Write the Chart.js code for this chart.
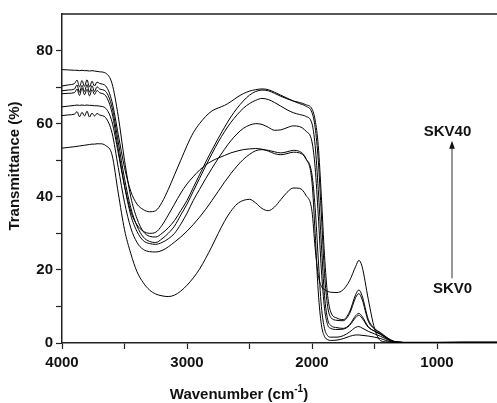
<!DOCTYPE html>
<html lang="en">
<head>
  <meta charset="UTF-8">
  <title>FTIR Transmittance</title>
  <script src="https://cdn.jsdelivr.net/npm/chart.js"></script>
  <style>
    body { margin: 0; background: #fff; }
    #wrap { width: 497px; height: 403px; }
  </style>
</head>
<body>
  <div id="wrap"><canvas id="ftir" width="497" height="403"></canvas></div>

  <script>
    // shared wavenumber grid (cm-1), finer around the water-vapour noise
    const wavenumber = [4000,3950,3900,3880,3860,3840,3820,3800,3780,3760,3740,3720,3700,
      3650,3600,3550,3500,3450,3400,3350,3300,3250,3200,
      3150,3100,3050,3000,2950,2900,2850,2800,2750,2700,
      2650,2600,2550,2500,2450,2400,2350,2300,2250,2200,
      2150,2100,2050,2000,1975,1950,1925,1900,1875,1850,
      1800,1750,1700,1650,1625,1600,1550,1500,1450,1400,
      1350,1300,1250,1200,1000,800,500];

    // transmittance (%), one array per spectrum
    const spec1 = [53.3,53.5,53.7,53.8,53.9,54.0,54.1,54.2,54.3,54.4,54.4,54.5,54.5,
      54.0,51.5,41,31,24.5,19.5,16.5,14.5,13.4,12.9,
      12.7,13.1,14.2,15.8,17.8,20.2,23.2,26.5,30,33.3,
      36,38,39,39.3,38.3,36.8,36.2,37.2,39.2,41.2,
      42.4,42.3,40.5,36,26,18.5,15.5,14.6,14.1,13.9,
      13.8,14.6,17,21,22.6,21,12,4,0.6,0.3,
      0.2,0.2,0.2,0.2,0.2,0.3,0.3];
    const spec2 = [62.2,62.4,62.6,63.3,61.9,63.1,62.1,63.4,61.8,62.9,62.1,62.8,62.4,
      61.6,57.5,48,38.5,31.5,27.5,25.6,25,24.9,25.3,
      26.3,27.6,29,30.6,32.4,34.4,36.6,39,41.5,44,
      46.3,48.4,50.2,51.6,52.6,52.9,52.7,52.3,52,52.3,
      52.7,52.4,50.5,44,30,14,5,1.8,0.9,0.7,
      0.8,1.2,1.8,2.2,2.2,2.1,1.9,1.6,1.2,0.6,
      0.3,0.15,0.1,0.1,0.1,0.1,0.1];
    const spec3 = [64.6,64.8,65,65.1,65,65.1,65,65.1,65,65,64.9,64.9,64.8,
      64.2,60.5,52,43,36,32.3,30.6,30,30.3,32.2,
      35,38,41,43.5,45.5,47.3,48.7,49.8,50.6,51.3,
      52,52.5,52.9,53.1,53.2,53,52.5,51.8,51.5,51.8,
      52.2,52,50.5,46,37,23,10,4,2,1.6,
      1.6,2,3,4.3,4.5,4.1,3.2,2.5,1.8,1,
      0.4,0.2,0.1,0.1,0.1,0.1,0.1];
    const spec4 = [68.2,68.3,68.5,69.5,67.7,69.7,67.9,69.4,67.6,69.3,68,69.1,68.5,
      67.6,63,53,43,35,30.5,28,27.2,27,27.5,
      28.5,30,32.5,35.5,39,42,45,47.8,50.5,53,
      55.3,57.2,58.7,59.6,60,59.8,59,58.2,58.3,58.9,
      59.4,59.2,58,55,48,35,20,9.5,5,4,
      3.7,3.8,4.8,7,7.6,6.8,4.3,3.3,2.4,1.3,
      0.5,0.2,0.1,0.1,0.1,0.1,0.1];
    const spec5 = [69,69.2,69.5,70.6,68.6,70.5,68.8,70.7,68.6,70.4,68.8,70.1,69.5,
      68.8,64.5,55,45,37,32,29,27.8,27.5,28.5,
      30,32,35,38,41.5,45,48.5,51.8,55,57.8,
      60.3,62.4,64.2,65.5,66.4,66.9,66.6,65.8,64.8,63.8,
      63,62.5,62,60,54,42,27,13,6.5,4.8,
      4.2,4,5,7.5,8.1,7.3,4.5,3.2,2.3,1.2,
      0.4,0.2,0.1,0.1,0.1,0.1,0.1];
    const spec6 = [70.3,70.6,71,71.9,70.1,71.8,70.2,72,70,71.6,70.3,71.4,71,
      70.3,66,57,48,41.5,38,36.5,35.9,36.2,38.5,
      42,46,50,54,57.5,60,62,63.5,64.3,65,
      66,67.2,68.2,68.9,69.3,69.5,69.3,68.6,67.8,67,
      66.2,65.5,64.8,63,59,50,35,19,10,7,
      6.2,6.1,8,12.5,13.5,12,6,3.8,2.6,1.4,
      0.5,0.2,0.1,0.1,0.1,0.1,0.1];
    const spec7 = [74.8,74.7,74.6,74.6,74.5,74.6,74.5,74.5,74.4,74.5,74.4,74.3,74.2,
      73.8,71,62,50,40,34,30.5,29.2,29,30,
      31.5,33.5,36.2,39,42.5,46,49.5,52.8,56,59,
      61.8,64.2,66.2,67.8,68.8,69.2,69,68.3,67.5,66.8,
      66.2,65.8,65.2,64,61,54,40,24,13,8.5,
      6.8,6.4,8.5,13.3,14.5,13,6.5,4,2.8,1.5,
      0.5,0.2,0.1,0.1,0.1,0.1,0.1];

    const spectra = [spec1, spec2, spec3, spec4, spec5, spec6, spec7];
    const xTicks = [1000, 1500, 2000, 2500, 3000, 3500, 4000];
    const yTicks = [0, 10, 20, 30, 40, 50, 60, 70, 80];

    // arrow annotation, in data units
    const arrowX = 880, arrowFrom = 17.7, arrowTo = 55.3;
    const topLabel = { text: 'SKV40', x: 916, y: 57.8 };
    const bottomLabel = { text: 'SKV0', x: 876, y: 14.7 };

    const FONT = '"Liberation Sans", Arial, sans-serif';
    const AXIS = '#222';

    const overlay = {
      id: 'overlay',
      afterDraw(chart) {
        const { ctx, chartArea: a, scales: { x, y } } = chart;
        ctx.save();
        // top frame line
        ctx.strokeStyle = AXIS;
        ctx.lineWidth = 1.5;
        ctx.beginPath();
        ctx.moveTo(a.left - 0.75, a.top);
        ctx.lineTo(a.right, a.top);
        ctx.stroke();

        // SKV labels + arrow
        ctx.fillStyle = '#111';
        ctx.font = 'bold 15px ' + FONT;
        ctx.textAlign = 'center';
        ctx.textBaseline = 'middle';
        ctx.fillText(topLabel.text, x.getPixelForValue(topLabel.x), y.getPixelForValue(topLabel.y));
        ctx.fillText(bottomLabel.text, x.getPixelForValue(bottomLabel.x), y.getPixelForValue(bottomLabel.y));
        const ax = x.getPixelForValue(arrowX);
        const y0 = y.getPixelForValue(arrowFrom), y1 = y.getPixelForValue(arrowTo);
        ctx.strokeStyle = '#333';
        ctx.lineWidth = 1;
        ctx.beginPath();
        ctx.moveTo(ax, y0);
        ctx.lineTo(ax, y1 + 6);
        ctx.stroke();
        ctx.beginPath();
        ctx.moveTo(ax, y1);
        ctx.lineTo(ax - 2.8, y1 + 8);
        ctx.lineTo(ax + 2.8, y1 + 8);
        ctx.closePath();
        ctx.fill();

        // x title with superscript
        const main = 'Wavenumber (cm', sup = '-1', tail = ')';
        ctx.font = 'bold 15px ' + FONT;
        const w1 = ctx.measureText(main).width, w3 = ctx.measureText(tail).width;
        ctx.font = 'bold 10px ' + FONT;
        const w2 = ctx.measureText(sup).width;
        let tx = 239 - (w1 + w2 + w3) / 2;
        const ty = 395;
        ctx.textAlign = 'left';
        ctx.font = 'bold 15px ' + FONT;
        ctx.fillText(main, tx, ty);
        ctx.font = 'bold 10px ' + FONT;
        ctx.fillText(sup, tx + w1, ty - 6);
        ctx.font = 'bold 15px ' + FONT;
        ctx.fillText(tail, tx + w1 + w2, ty);

        // y title
        ctx.translate(15, 166);
        ctx.rotate(-Math.PI / 2);
        ctx.textAlign = 'center';
        ctx.fillText('Transmittance (%)', 0, 0);
        ctx.restore();
      }
    };

    const ctx = document.getElementById('ftir').getContext('2d');
    new Chart(ctx, {
      type: 'line',
      data: {
        datasets: spectra.map((s, k) => ({
          label: 'spectrum ' + (k + 1),
          data: wavenumber.map((w, i) => ({ x: w, y: s[i] })),
          borderColor: '#000',
          borderWidth: 1,
          pointRadius: 0,
          cubicInterpolationMode: 'monotone',
          fill: false
        }))
      },
      options: {
        responsive: false,
        animation: false,
        devicePixelRatio: 1,
        layout: { padding: { top: 14, left: 0, right: 0, bottom: 0 } },
        plugins: { legend: { display: false }, tooltip: { enabled: false } },
        scales: {
          x: {
            type: 'linear',
            reverse: true,
            min: 520,
            max: 4000,
            afterBuildTicks: s => { s.ticks = xTicks.map(v => ({ value: v })); },
            afterFit: s => { s.height = 60; },
            border: { display: true, color: AXIS, width: 1.5 },
            grid: { drawOnChartArea: false, drawTicks: true, tickLength: 6, tickColor: AXIS, tickWidth: 1.2 },
            ticks: {
              autoSkip: false,
              maxRotation: 0,
              padding: 5,
              color: '#111',
              font: { family: FONT, size: 15, weight: 'bold' },
              callback: v => (v % 1000 === 0 ? v : '')
            }
          },
          y: {
            min: 0,
            max: 90,
            afterBuildTicks: s => { s.ticks = yTicks.map(v => ({ value: v })); },
            afterFit: s => { s.width = 62; },
            border: { display: true, color: AXIS, width: 1.5 },
            grid: { drawOnChartArea: false, drawTicks: true, tickLength: 6, tickColor: AXIS, tickWidth: 1.2 },
            ticks: {
              padding: 3,
              color: '#111',
              font: { family: FONT, size: 15, weight: 'bold' },
              callback: v => (v % 20 === 0 ? v : '')
            }
          }
        }
      },
      plugins: [overlay]
    });
  </script>
</body>
</html>
